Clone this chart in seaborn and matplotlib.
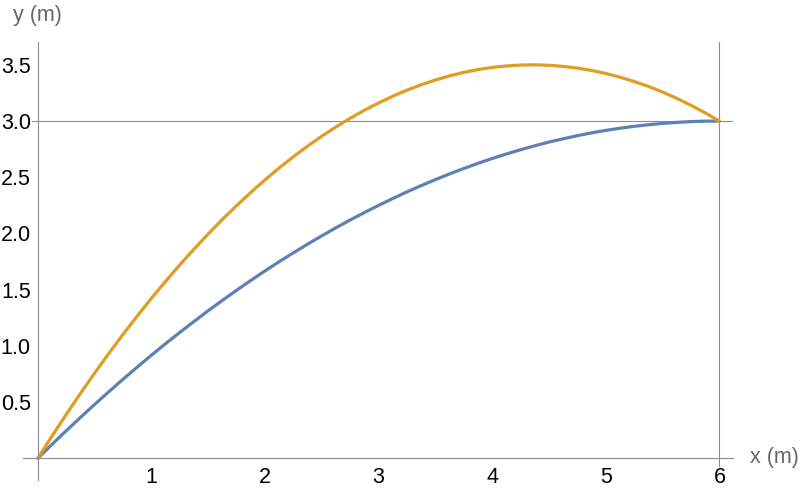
import matplotlib
matplotlib.use('Agg')
import matplotlib.pyplot as plt
import seaborn as sns

# values (every 0.125 m)
x_m = [0.0, 0.125, 0.25, 0.375, 0.5, 0.625, 0.75, 0.875, 1.0, 1.125, 1.25,
       1.375, 1.5, 1.625, 1.75, 1.875, 2.0, 2.125, 2.25, 2.375, 2.5, 2.625,
       2.75, 2.875, 3.0, 3.125, 3.25, 3.375, 3.5, 3.625, 3.75, 3.875, 4.0,
       4.125, 4.25, 4.375, 4.5, 4.625, 4.75, 4.875, 5.0, 5.125, 5.25, 5.375,
       5.5, 5.625, 5.75, 5.875, 6.0]
y_low = [0.0, 0.124, 0.245, 0.363, 0.479, 0.592, 0.703, 0.811, 0.917, 1.020,
         1.120, 1.217, 1.313, 1.405, 1.495, 1.582, 1.667, 1.749, 1.828, 1.905,
         1.979, 2.051, 2.120, 2.186, 2.250, 2.311, 2.370, 2.426, 2.479, 2.530,
         2.578, 2.624, 2.667, 2.707, 2.745, 2.780, 2.813, 2.842, 2.870, 2.895,
         2.917, 2.936, 2.953, 2.967, 2.979, 2.988, 2.995, 2.999, 3.0]
y_high = [0.0, 0.198, 0.390, 0.577, 0.758, 0.933, 1.102, 1.265, 1.423, 1.575,
          1.721, 1.861, 1.996, 2.125, 2.248, 2.365, 2.477, 2.583, 2.683, 2.777,
          2.865, 2.948, 3.025, 3.096, 3.161, 3.221, 3.275, 3.323, 3.365, 3.402,
          3.433, 3.458, 3.477, 3.490, 3.498, 3.500, 3.496, 3.486, 3.471, 3.450,
          3.423, 3.390, 3.352, 3.308, 3.258, 3.202, 3.140, 3.073, 3.0]

x_major = [1, 2, 3, 4, 5, 6]
x_minor = [i / 5 for i in range(1, 31) if i % 5]
y_major = [0.5, 1.0, 1.5, 2.0, 2.5, 3.0, 3.5]
y_minor = [i / 10 for i in range(-1, 38) if i % 5]

blue = '#5E81B5'
orange = '#E19C24'
axcol = '#8c8c8c'

sns.set_theme(style='white')
plt.rcParams['font.family'] = ['Liberation Sans', 'DejaVu Sans']

fig = plt.figure(figsize=(8, 4.95), dpi=100)
ax = fig.add_axes([0.02838, 0.0303, 0.8879, 0.8855])

sns.lineplot(x=x_m, y=y_low, color=blue, linewidth=2.3, ax=ax)
sns.lineplot(x=x_m, y=y_high, color=orange, linewidth=2.3, ax=ax)

ax.axhline(3.0, color=axcol, linewidth=0.8, zorder=0)
ax.axvline(6.0, color=axcol, linewidth=0.8, zorder=0)

ax.set_xlim(-0.133, 6.12)
ax.set_ylim(-0.193, 3.706)

for s in ['top', 'right']:
    ax.spines[s].set_visible(False)
ax.spines['left'].set_position(('data', 0))
ax.spines['bottom'].set_position(('data', 0))
for s in ['left', 'bottom']:
    ax.spines[s].set_color(axcol)
    ax.spines[s].set_linewidth(0.8)

ax.set_xticks(x_major)
ax.set_xticks(x_minor, minor=True)
ax.set_yticks(y_major)
ax.set_yticks(y_minor, minor=True)
ax.set_xticklabels([str(v) for v in x_major])
ax.set_yticklabels([f'{v:.1f}' for v in y_major])

ax.tick_params(which='both', direction='in', color=axcol, width=0.8,
               labelsize=15.5, labelcolor='black')
ax.tick_params(which='major', length=4.3)
ax.tick_params(which='minor', length=2.3)
ax.tick_params(axis='x', pad=6.5)
ax.tick_params(axis='y', pad=5)
for lab in ax.get_xticklabels() + ax.get_yticklabels():
    lab.set_bbox(dict(facecolor='white', edgecolor='none', pad=0.5))

fig.text(750 / 800, 1 - 458 / 495, 'x (m)', fontsize=15.5, color='#666666',
         ha='left', va='center')
fig.text(37 / 800, 1 - 16 / 495, 'y (m)', fontsize=15.5, color='#666666',
         ha='center', va='center')

fig.savefig('out.png', dpi=100)
